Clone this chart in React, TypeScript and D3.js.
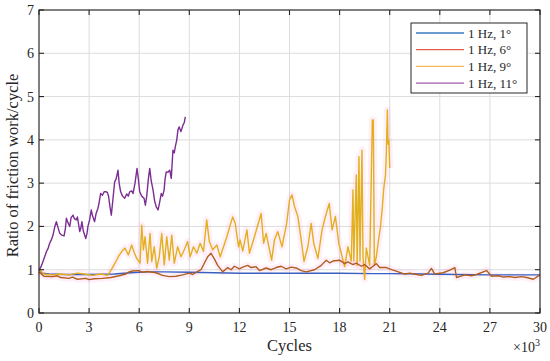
import React, { useEffect, useRef } from 'react';
import * as d3 from 'd3';

// x in 10^3 cycles, y = ratio of friction work per cycle
const xTicks = [0, 3, 6, 9, 12, 15, 18, 21, 24, 27, 30];
const yTicks = [0, 1, 2, 3, 4, 5, 6, 7];
const legendLabels = ['1 Hz, 1°', '1 Hz, 6°', '1 Hz, 9°', '1 Hz, 11°'];

const series1deg: [number, number][] = [
  [0, 1.0], [0.2, 0.92], [0.6, 0.9], [1.5, 0.89], [3, 0.89], [4.5, 0.9], [5.5, 0.93],
  [6.5, 0.95], [7.5, 0.95], [9, 0.94], [10.5, 0.93], [12, 0.92], [15, 0.92], [18, 0.92],
  [20, 0.91], [21, 0.91], [23, 0.9], [25, 0.89], [27, 0.88], [30, 0.88]
];

const series6deg: [number, number][] = [
  [0, 0.95], [0.3, 0.85], [0.8, 0.84], [1.1, 0.86], [1.3, 0.82], [1.8, 0.8], [2.0, 0.83],
  [2.3, 0.78], [2.8, 0.8], [3.0, 0.77], [3.3, 0.79], [3.8, 0.8], [4.3, 0.82], [4.8, 0.86],
  [5.2, 0.9], [5.4, 0.95], [5.6, 0.97], [6.0, 0.98], [6.2, 0.94], [6.5, 0.96], [7.0, 0.93],
  [7.4, 0.87], [7.8, 0.84], [8.2, 0.85], [8.6, 0.88], [9.0, 0.92], [9.2, 0.89], [9.4, 0.94],
  [9.7, 1.0], [9.9, 1.15], [10.1, 1.3], [10.3, 1.38], [10.5, 1.25], [10.7, 1.1], [11.0, 0.95],
  [11.3, 1.05], [11.5, 1.0], [11.7, 1.08], [12.0, 1.02], [12.2, 1.06], [12.5, 1.1],
  [12.7, 1.05], [13.0, 1.07], [13.2, 0.98], [13.6, 1.04], [13.9, 1.0], [14.2, 1.05],
  [14.5, 1.08], [14.8, 1.02], [15.1, 1.06], [15.4, 1.04], [15.7, 0.98], [16.0, 0.95],
  [16.5, 1.0], [16.9, 1.1], [17.2, 1.22], [17.4, 1.16], [17.6, 1.2], [18.0, 1.22],
  [18.3, 1.14], [18.5, 1.18], [18.8, 1.12], [19.0, 1.15], [19.3, 1.08], [19.5, 1.12],
  [19.8, 1.02], [20.0, 1.08], [20.2, 1.14], [20.4, 1.05], [20.8, 1.05], [21.2, 0.99],
  [21.6, 0.94], [21.9, 0.9], [22.2, 0.92], [22.6, 0.89], [22.9, 0.87], [23.3, 0.92],
  [23.5, 1.03], [23.7, 0.9], [24.2, 0.93], [24.6, 0.99], [24.9, 1.05], [25.0, 0.82],
  [25.5, 0.88], [25.9, 0.86], [26.2, 0.89], [26.8, 0.98], [27.1, 0.85], [27.5, 0.86],
  [27.8, 0.83], [28.2, 0.84], [28.5, 0.82], [28.9, 0.84], [29.2, 0.82], [29.6, 0.78],
  [30, 0.88]
];

const series9deg: [number, number][] = [
  [0, 1.0], [0.3, 0.9], [0.8, 0.88], [1.3, 0.9], [1.8, 0.88], [2.3, 0.92], [2.7, 0.9],
  [3.2, 0.87], [3.7, 0.9], [4.1, 0.87], [4.25, 0.95], [4.4, 1.05], [4.55, 1.15], [4.75, 1.3],
  [4.95, 1.42], [5.15, 1.5], [5.35, 1.34], [5.55, 1.57], [5.7, 1.4], [5.85, 1.26], [6.05, 1.15],
  [6.15, 2.03], [6.25, 1.46], [6.35, 1.76], [6.5, 1.15], [6.65, 1.84], [6.75, 1.19], [6.9, 1.53],
  [7.05, 1.03], [7.2, 1.3], [7.35, 1.84], [7.5, 1.11], [7.65, 1.76], [7.8, 1.22], [7.95, 1.8],
  [8.1, 1.15], [8.3, 1.53], [8.5, 1.3], [8.7, 1.46], [8.9, 1.65], [9.05, 1.3], [9.25, 1.53],
  [9.45, 1.38], [9.65, 1.61], [9.85, 1.42], [10.04, 2.15], [10.2, 1.65], [10.4, 1.46],
  [10.65, 1.57], [10.85, 1.3], [11.05, 1.53], [11.25, 1.76], [11.45, 2.03], [11.6, 2.22],
  [11.75, 2.07], [11.95, 1.53], [12.04, 1.69], [12.2, 1.43], [12.45, 1.92], [12.6, 1.38],
  [12.9, 1.76], [13.3, 2.3], [13.45, 1.61], [13.6, 1.84], [13.93, 1.22], [14.1, 1.69],
  [14.3, 1.88], [14.55, 1.53], [14.83, 2.07], [15.0, 2.61], [15.15, 2.73], [15.3, 2.46],
  [15.5, 2.23], [15.7, 1.69], [15.87, 1.19], [16.1, 1.53], [16.3, 2.07], [16.45, 1.61],
  [16.7, 1.26], [16.95, 1.92], [17.15, 2.23], [17.38, 2.53], [17.55, 1.92], [17.75, 2.23],
  [17.95, 1.61], [18.1, 1.38], [18.3, 1.07], [18.5, 1.53], [18.7, 1.2], [18.8, 2.84],
  [18.85, 1.2], [19.0, 3.19], [19.05, 1.1], [19.16, 3.61], [19.22, 1.2], [19.34, 3.76],
  [19.4, 1.3], [19.5, 0.78], [19.6, 1.5], [19.8, 1.1], [19.96, 4.46], [20.02, 4.46],
  [20.08, 1.1], [20.2, 1.3], [20.3, 1.6], [20.45, 2.0], [20.55, 2.4], [20.65, 2.9],
  [20.75, 3.2], [20.8, 3.7], [20.86, 4.69], [20.9, 3.9], [20.95, 4.0], [21.0, 3.35]
];

const series11deg: [number, number][] = [
  [0, 1.0], [0.1, 1.05], [0.2, 1.15], [0.34, 1.3], [0.45, 1.42], [0.55, 1.5], [0.64, 1.61],
  [0.75, 1.7], [0.84, 1.8], [0.95, 2.0], [1.04, 2.11], [1.12, 2.0], [1.24, 1.84], [1.35, 1.8],
  [1.5, 1.78], [1.58, 1.95], [1.64, 2.19], [1.72, 2.1], [1.84, 2.0], [1.92, 2.2], [2.04, 2.26],
  [2.12, 2.18], [2.23, 2.15], [2.3, 2.22], [2.44, 1.88], [2.5, 1.95], [2.57, 2.11], [2.65, 1.9],
  [2.8, 1.72], [2.88, 1.85], [2.93, 2.0], [3.03, 2.15], [3.13, 2.38], [3.2, 2.25], [3.33, 2.11],
  [3.42, 2.3], [3.53, 2.42], [3.6, 2.55], [3.69, 2.76], [3.8, 2.72], [3.9, 2.8], [4.03, 2.8],
  [4.1, 2.78], [4.17, 2.69], [4.25, 2.45], [4.33, 2.26], [4.42, 2.6], [4.53, 3.03], [4.62, 3.1],
  [4.73, 3.3], [4.8, 3.0], [4.89, 2.8], [5.0, 2.7], [5.13, 2.65], [5.25, 2.75], [5.35, 2.7],
  [5.43, 2.8], [5.55, 2.82], [5.63, 2.76], [5.75, 3.0], [5.87, 3.34], [5.95, 3.1], [6.03, 2.8],
  [6.15, 2.7], [6.29, 2.65], [6.37, 2.49], [6.45, 2.7], [6.55, 3.1], [6.63, 3.34], [6.72, 3.05],
  [6.83, 2.84], [6.92, 2.6], [7.02, 2.45], [7.13, 2.38], [7.22, 2.55], [7.32, 2.76], [7.4, 2.7],
  [7.49, 2.84], [7.55, 3.1], [7.62, 3.26], [7.72, 3.25], [7.83, 3.3], [7.92, 3.11], [8.02, 3.76],
  [8.1, 3.7], [8.16, 3.84], [8.25, 4.0], [8.32, 4.23], [8.4, 4.3], [8.49, 4.19], [8.55, 4.25],
  [8.62, 4.34], [8.7, 4.4], [8.76, 4.53]
];

const lineColors = ['#3a5fc0', '#b05e1f', '#e2b01c', '#7b2d93'];
const legendColors = ['#3a7bbf', '#e35c4c', '#f7b55b', '#a05cb0'];

const App: React.FC = () => {
  const svgRef = useRef<SVGSVGElement>(null);

  useEffect(() => {
    document.body.style.margin = '0';
    if (!svgRef.current) return;
    const svg = d3.select(svgRef.current);
    svg.selectAll('*').remove();

    const width = 550;
    const height = 361;
    const left = 39, right = 540, top = 10, bottom = 313;
    const font = '"Liberation Serif", "Times New Roman", serif';

    const x = d3.scaleLinear().domain([0, 30]).range([left, right]);
    const y = d3.scaleLinear().domain([0, 7]).range([bottom, top]);

    svg.attr('width', width).attr('height', height);
    svg.append('rect').attr('width', width).attr('height', height).attr('fill', 'white');

    // Grid
    const grid = svg.append('g').attr('stroke', '#dcdcdc').attr('stroke-width', 1);
    xTicks.forEach(t => {
      grid.append('line').attr('x1', x(t)).attr('x2', x(t)).attr('y1', top).attr('y2', bottom);
    });
    yTicks.forEach(t => {
      grid.append('line').attr('x1', left).attr('x2', right).attr('y1', y(t)).attr('y2', y(t));
    });

    // Lines
    const line = d3.line<[number, number]>()
      .x(d => x(d[0]))
      .y(d => y(d[1]));

    const plot = svg.append('g');
    const all = [series1deg, series6deg, series9deg, series11deg];

    // faint pink halo around the 6° and 9° traces
    [series6deg, series9deg].forEach(s => {
      plot.append('path')
        .datum(s)
        .attr('fill', 'none')
        .attr('stroke', '#ff7fd0')
        .attr('stroke-opacity', 0.12)
        .attr('stroke-width', 7)
        .attr('stroke-linejoin', 'round')
        .attr('d', line);
    });

    [0, 2, 1, 3].forEach(i => {
      plot.append('path')
        .datum(all[i])
        .attr('fill', 'none')
        .attr('stroke', lineColors[i])
        .attr('stroke-width', 1.4)
        .attr('stroke-linejoin', 'round')
        .attr('d', line);
    });

    // Axes box with inward ticks
    const ax = svg.append('g').attr('stroke', '#262626').attr('stroke-width', 1.1).attr('fill', 'none');
    ax.append('rect')
      .attr('x', left).attr('y', top)
      .attr('width', right - left).attr('height', bottom - top);
    xTicks.forEach(t => {
      ax.append('line').attr('x1', x(t)).attr('x2', x(t)).attr('y1', bottom).attr('y2', bottom - 5);
      ax.append('line').attr('x1', x(t)).attr('x2', x(t)).attr('y1', top).attr('y2', top + 5);
    });
    yTicks.forEach(t => {
      ax.append('line').attr('x1', left).attr('x2', left + 5).attr('y1', y(t)).attr('y2', y(t));
      ax.append('line').attr('x1', right).attr('x2', right - 5).attr('y1', y(t)).attr('y2', y(t));
    });

    // Tick labels
    svg.append('g')
      .selectAll('text')
      .data(xTicks)
      .join('text')
      .attr('x', d => x(d))
      .attr('y', bottom + 19)
      .attr('text-anchor', 'middle')
      .attr('font-family', font)
      .attr('font-size', 14)
      .attr('fill', '#262626')
      .text(d => d);

    svg.append('g')
      .selectAll('text')
      .data(yTicks)
      .join('text')
      .attr('x', left - 5)
      .attr('y', d => y(d) + 5)
      .attr('text-anchor', 'end')
      .attr('font-family', font)
      .attr('font-size', 14)
      .attr('fill', '#262626')
      .text(d => d);

    // Axis titles
    svg.append('text')
      .attr('x', (left + right) / 2)
      .attr('y', 351)
      .attr('text-anchor', 'middle')
      .attr('font-family', font)
      .attr('font-size', 16.5)
      .attr('fill', '#262626')
      .text('Cycles');

    const exp = svg.append('text')
      .attr('x', right)
      .attr('y', 352)
      .attr('text-anchor', 'end')
      .attr('font-family', font)
      .attr('font-size', 14)
      .attr('fill', '#262626');
    exp.append('tspan').text('×10');
    exp.append('tspan').attr('dy', -6).attr('font-size', 10).text('3');

    svg.append('text')
      .attr('transform', `translate(18,${(top + bottom) / 2 + 4}) rotate(-90)`)
      .attr('text-anchor', 'middle')
      .attr('font-family', font)
      .attr('font-size', 16.5)
      .attr('fill', '#262626')
      .text('Ratio of friction work/cycle');

    // Legend
    const lg = svg.append('g');
    lg.append('rect')
      .attr('x', 411).attr('y', 23)
      .attr('width', 116).attr('height', 70)
      .attr('fill', 'white')
      .attr('stroke', '#262626')
      .attr('stroke-width', 1);
    legendLabels.forEach((label, i) => {
      const ly = 33 + i * 16.7;
      lg.append('line')
        .attr('x1', 416).attr('x2', 464)
        .attr('y1', ly).attr('y2', ly)
        .attr('stroke', legendColors[i])
        .attr('stroke-width', 1.3);
      lg.append('text')
        .attr('x', 468)
        .attr('y', ly + 4.5)
        .attr('font-family', font)
        .attr('font-size', 13)
        .attr('fill', '#262626')
        .text(label);
    });
  }, []);

  return <svg ref={svgRef} style={{ display: 'block' }}></svg>;
};

export default App;
